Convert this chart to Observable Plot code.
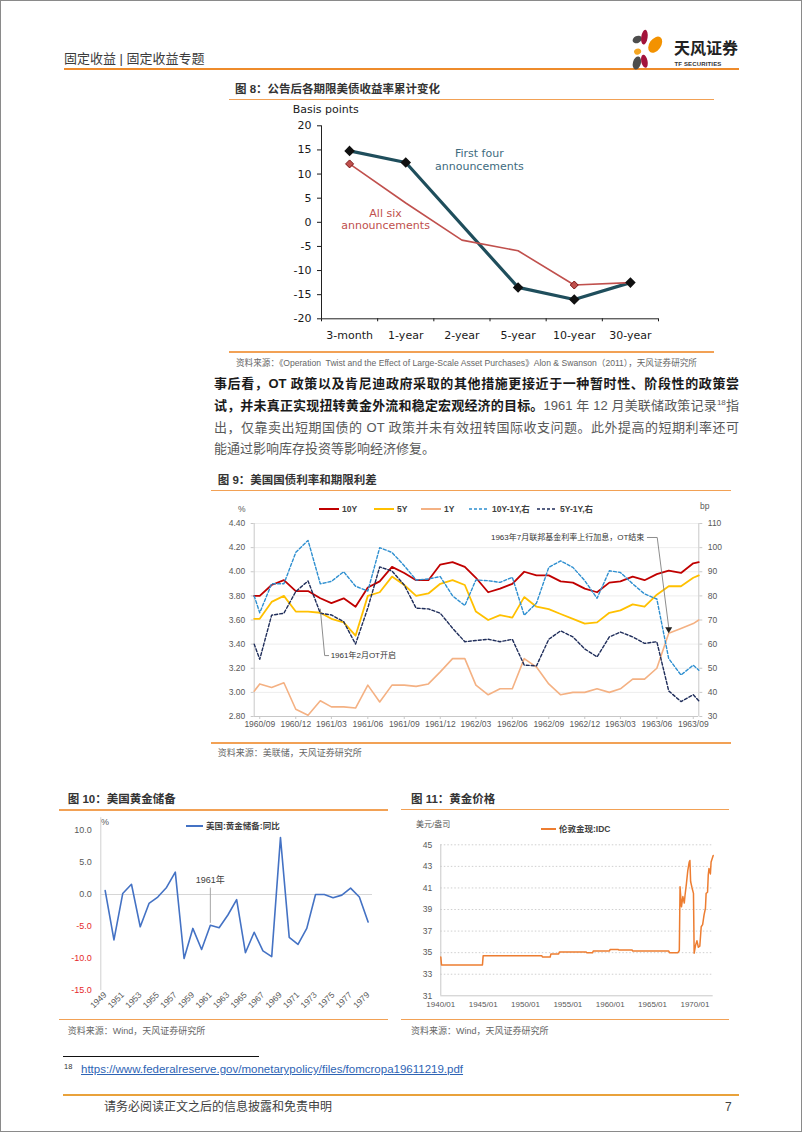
<!DOCTYPE html>
<html><head><meta charset="utf-8">
<script src="https://cdn.jsdelivr.net/npm/d3@7"></script>
<script src="https://cdn.jsdelivr.net/npm/@observablehq/plot@0.6"></script>
<style>
html,body{margin:0;padding:0;background:#fff;}
#page{position:relative;width:802px;height:1132px;box-sizing:border-box;border:1px solid #8a8a8a;overflow:hidden;font-family:"Liberation Sans","Noto Sans CJK SC",sans-serif;color:#333;background:#fff;}
.a{position:absolute;white-space:nowrap;}
.title{font-size:11.5px;font-weight:bold;color:#333;line-height:16px;}
.src{font-size:9px;color:#666;line-height:12px;}
.oline{position:absolute;height:1.5px;background:#F2A155;}
.para{position:absolute;left:213px;width:525px;font-size:13px;line-height:20px;text-align:justify;text-align-last:justify;color:#595959;}
.para b{color:#1a1a1a;}
.para sup{font-size:8px;line-height:0;vertical-align:super;}
.lg{display:flex;align-items:center;gap:3px;font-size:8.5px;font-weight:bold;line-height:12px;color:#404040;}
</style></head>
<body>
<div id="page">
  <!-- header -->
  <div class="a" style="left:63px;top:48px;font-size:13px;line-height:20px;color:#3b3b3b;">固定收益 | 固定收益专题</div>
  <div class="a" style="left:63px;top:67px;width:675px;height:2px;background:#EE8B2B;"></div>
  <svg class="a" style="left:625px;top:24px" width="42" height="48" viewBox="625 24 42 48">
    <ellipse cx="636.2" cy="38.5" rx="4.8" ry="3.5" transform="rotate(-25 636.2 38.5)" fill="#4d4d4d"/>
    <ellipse cx="643.4" cy="36.2" rx="3.2" ry="7.4" transform="rotate(8 643.4 36.2)" fill="#A3123A"/>
    <ellipse cx="654.2" cy="43.7" rx="5.8" ry="9" transform="rotate(35 654.2 43.7)" fill="#F39200"/>
    <ellipse cx="636.6" cy="50.6" rx="3.6" ry="3" transform="rotate(-20 636.6 50.6)" fill="#F5A623"/>
    <ellipse cx="635.9" cy="62" rx="4" ry="6.6" transform="rotate(15 635.9 62)" fill="#4d4d4d"/>
    <ellipse cx="643.4" cy="60.3" rx="3.2" ry="6.6" transform="rotate(-12 643.4 60.3)" fill="#A3123A"/>
  </svg>
  <div class="a" style="left:673px;top:38px;font-size:16px;line-height:20px;font-weight:bold;color:#222;">天风证券</div>
  <div class="a" style="left:673.5px;top:58.5px;font-size:6px;line-height:8px;font-weight:bold;color:#333;letter-spacing:0.15px;">TF SECURITIES</div>

  <!-- figure 8 -->
  <div class="a title" style="left:234px;top:80px;">图 8：公告后各期限美债收益率累计变化</div>
  <div class="oline" style="left:228px;top:97.5px;width:485px;"></div>
  <div class="a" style="left:291.7px;top:101px;font-family:'DejaVu Sans',sans-serif;font-size:11px;line-height:16px;color:#1a1a1a;">Basis points</div>
  <div class="oline" style="left:228px;top:350px;width:485px;"></div>
  <div class="a src" style="left:235px;top:356px;font-size:8.6px;">资料来源：《Operation&nbsp; Twist and the Effect of Large-Scale Asset Purchases》Alon &amp; Swanson（2011），天风证券研究所</div>

  <!-- paragraph -->
  <div class="para" style="top:373.3px;"><b>事后看，OT 政策以及肯尼迪政府采取的其他措施更接近于一种暂时性、阶段性的政策尝</b></div>
  <div class="para" style="top:395px;"><b>试，并未真正实现扭转黄金外流和稳定宏观经济的目标。</b>1961 年 12 月美联储政策记录<sup>18</sup>指</div>
  <div class="para" style="top:416.7px;">出，仅靠卖出短期国债的 OT 政策并未有效扭转国际收支问题。此外提高的短期利率还可</div>
  <div class="para" style="top:438px;text-align-last:left;">能通过影响库存投资等影响经济修复。</div>

  <!-- figure 9 -->
  <div class="a title" style="left:216.7px;top:471px;">图 9：美国国债利率和期限利差</div>
  <div class="oline" style="left:210px;top:488.5px;width:520px;"></div>
  <div class="a" style="left:237px;top:502px;font-size:8.5px;line-height:12px;color:#595959;">%</div>
  <div class="a" style="left:699px;top:499px;font-size:8.5px;line-height:12px;color:#595959;">bp</div>
  <div class="oline" style="left:210px;top:741px;width:520px;"></div>
  <div class="a src" style="left:216.7px;top:746px;">资料来源：美联储，天风证券研究所</div>

  <!-- figure 10 -->
  <div class="a title" style="left:66.7px;top:790.3px;">图 10：美国黄金储备</div>
  <div class="oline" style="left:58px;top:808.3px;width:329px;"></div>
  <div class="a" style="left:100px;top:815px;font-size:9px;line-height:12px;color:#595959;">%</div>
  <div class="oline" style="left:58px;top:1017.5px;width:329px;"></div>
  <div class="a src" style="left:66.7px;top:1024px;">资料来源：Wind，天风证券研究所</div>

  <!-- figure 11 -->
  <div class="a title" style="left:410px;top:790.3px;">图 11：黄金价格</div>
  <div class="oline" style="left:400px;top:807.8px;width:328px;"></div>
  <div class="a" style="left:415px;top:818.3px;font-size:8px;line-height:12px;color:#595959;">美元/盎司</div>
  <div class="oline" style="left:400px;top:1017.5px;width:328px;"></div>
  <div class="a src" style="left:410px;top:1024px;">资料来源：Wind，天风证券研究所</div>

  <!-- footnote & footer -->
  <div class="a" style="left:62px;top:1055px;width:196px;height:1px;background:#111;"></div>
  <div class="a" style="left:63px;top:1061px;font-size:7.5px;line-height:10px;color:#333;">18</div>
  <div class="a" style="left:80px;top:1061px;font-size:11.5px;line-height:14px;color:#2E64B5;text-decoration:underline;">https://www.federalreserve.gov/monetarypolicy/files/fomcropa19611219.pdf</div>
  <div class="a" style="left:62px;top:1092.5px;width:676px;height:2px;background:#E9A23B;"></div>
  <div class="a" style="left:103px;top:1096px;font-size:12px;line-height:20px;color:#404040;">请务必阅读正文之后的信息披露和免责申明</div>
  <div class="a" style="left:724px;top:1096px;font-size:12px;line-height:20px;color:#404040;">7</div>
</div>
<script>
// ================= DATA =================
// Figure 8
const f8Categories = ["3-month","1-year","2-year","5-year","10-year","30-year"];
const f8FirstFour = [14.8, 12.4, null, -13.5, -16.0, -12.5];
const f8AllSix = [12.1, 4.0, -3.7, -5.9, -13.0, -12.5];
const f8AllSixMarkers = ["3-month","10-year"];
const f8YTicks = [20,15,10,5,0,-5,-10,-15,-20];

// Figure 9
const f9Dates = ["1960-08-18","1960-09-01","1960-10-01","1960-11-01","1960-12-01",
 "1961-01-01","1961-02-01","1961-03-01","1961-04-01","1961-05-01","1961-06-01","1961-07-01","1961-08-01","1961-09-01","1961-10-01","1961-11-01","1961-12-01",
 "1962-01-01","1962-02-01","1962-03-01","1962-04-01","1962-05-01","1962-06-01","1962-07-01","1962-08-01","1962-09-01","1962-10-01","1962-11-01","1962-12-01",
 "1963-01-01","1963-02-01","1963-03-01","1963-04-01","1963-05-01","1963-06-01","1963-07-01","1963-08-01","1963-09-01","1963-09-15"];
const f9Y10 = [3.80,3.80,3.89,3.93,3.84,3.84,3.78,3.74,3.78,3.71,3.87,3.92,4.04,3.99,3.93,3.93,4.06,4.08,4.04,3.95,3.83,3.86,3.90,4.00,3.97,3.97,3.92,3.91,3.86,3.83,3.91,3.92,3.96,3.93,3.98,4.01,3.99,4.07,4.08];
const f9Y5 = [3.61,3.61,3.75,3.80,3.67,3.67,3.66,3.61,3.58,3.47,3.80,3.83,3.96,3.89,3.80,3.82,3.90,3.93,3.89,3.67,3.60,3.64,3.62,3.79,3.71,3.69,3.65,3.61,3.57,3.58,3.66,3.68,3.73,3.71,3.81,3.88,3.88,3.95,3.97];
const f9Y1 = [3.01,3.07,3.04,3.08,2.86,2.81,2.93,2.88,2.88,2.87,3.06,2.92,3.06,3.06,3.05,3.07,3.17,3.28,3.28,3.06,2.98,3.03,3.03,3.28,3.21,3.07,2.98,3.00,3.00,3.03,3.00,3.03,3.11,3.11,3.20,3.49,3.53,3.57,3.60];
const f9S10m1 = [80,73,85,85,98,103,85,86,90,84,82,100,98,92.5,86.6,87,88,80,76,86.6,86.3,85.6,87.7,72,77,91.8,94.5,91.8,86.3,79,90.4,89.7,85,80.8,78.7,54,47.2,51.3,49.2];
const f9S5m1 = [60,53.7,72,72.8,81.8,86.2,72.8,72.1,69.3,60,75,92,90.3,84.5,74.9,74.6,72.8,66.6,61,61.5,62,61,62,51.3,51,62,65.5,63,58,54.7,63,65,63,60.3,61,40.6,36.2,39,36.5];
const f9LeftTicks = [2.8,3.0,3.2,3.4,3.6,3.8,4.0,4.2,4.4];
const f9RightTicks = [30,40,50,60,70,80,90,100,110];
const f9XTicks = ["1960/09","1960/12","1961/03","1961/06","1961/09","1961/12","1962/03","1962/06","1962/09","1962/12","1963/03","1963/06","1963/09"];
const f9SeriesNames = ["10Y","5Y","1Y","10Y-1Y,右","5Y-1Y,右"];
const f9Colors = ["#C00000","#FFC000","#F4B183","#2E8FD0","#1F2D5A"];

// Figure 10
const f10Years = d3.range(1949, 1980);
const f10Values = [0.6,-7.1,0.15,1.6,-5.05,-1.4,-0.4,1.1,3.5,-10.0,-5.3,-8.6,-4.8,-5.2,-3.2,-0.8,-9.1,-5.9,-8.8,-9.7,8.9,-6.7,-7.8,-5.3,0.0,0.0,-0.5,-0.1,1.0,-0.4,-4.3];
const f10YTicks = [10,5,0,-5,-10,-15];
const f10XTicks = d3.range(1949, 1980, 2);

// Figure 11
const f11Dates = ["1940-01","1940-02","1944-12","1945-01","1951-12","1952-01","1952-12","1953-01","1953-12","1954-01","1957-03","1957-04","1957-12","1958-01","1959-12","1960-01","1960-12","1961-01","1962-08","1962-09","1966-12","1967-01","1968-01","1968-03","1968-04","1968-06","1968-08","1968-10","1968-11","1969-01","1969-03","1969-05","1969-06","1969-07","1969-09","1969-11","1969-12","1970-02","1970-04","1970-06","1970-08","1970-10","1970-12","1971-02","1971-04","1971-05","1971-07","1971-08","1971-09","1971-11","1971-12","1972-03"];
const f11Prices = [34.6,33.86,33.86,34.72,34.72,34.6,34.6,34.88,34.88,35.06,35.06,34.98,34.98,35.15,35.15,35.3,35.3,35.25,35.25,35.15,35.15,35.0,35.0,35.2,41.1,39.25,40.2,39.6,40.3,41.4,42.6,43.4,43.55,41.6,41.0,40.5,34.95,35.7,36.1,35.5,35.6,37.4,37.6,38.5,39.1,40.5,40.6,42.2,42.8,42.3,43.4,44.0];
const f11YTicks = [31,33,35,37,39,41,43,45];
const f11XTicks = ["1940/01","1945/01","1950/01","1955/01","1960/01","1965/01","1970/01"];

// ================= HELPERS =================
const page = document.getElementById("page");
function place(el, left, top, w) {
  const d = document.createElement("div");
  d.style.cssText = `position:absolute;left:${left}px;top:${top}px;width:${w}px;`;
  d.appendChild(el);
  page.appendChild(d);
}
const SANS = "'Liberation Sans','Noto Sans CJK SC',sans-serif";

// ================= FIGURE 8 =================
const f8Four = f8Categories.map((c,i)=>({c, x:i+0.5, v:f8FirstFour[i]})).filter(d=>d.v!=null);
const f8Six = f8Categories.map((c,i)=>({c, x:i+0.5, v:f8AllSix[i]}));
const fig8 = Plot.plot({
  width:485, height:250, marginLeft:92, marginRight:56, marginTop:24.3, marginBottom:32.7,
  style:{fontFamily:"'DejaVu Sans',sans-serif", fontSize:"11px", color:"#1a1a1a", background:"transparent", overflow:"visible"},
  x:{domain:[0, f8Categories.length]},
  y:{domain:[f8YTicks[f8YTicks.length-1], f8YTicks[0]]},
  marks:[
    Plot.ruleX([0], {stroke:"#222"}),
    Plot.ruleY([f8YTicks[f8YTicks.length-1]], {stroke:"#222"}),
    Plot.axisY(f8YTicks, {label:null, tickSize:4, tickPadding:6, tickFormat:d=>String(d), fontSize:11}),
    Plot.axisX(d3.range(f8Categories.length+1), {label:null, tickSize:3, tickFormat:()=>""}),
    Plot.axisX(f8Categories.map((c,i)=>i+0.5), {label:null, tickSize:0, tickPadding:12, tickFormat:d=>f8Categories[Math.floor(d)], fontSize:11}),
    Plot.line(f8Four, {x:"x", y:"v", stroke:"#1F4E5C", strokeWidth:3.2}),
    Plot.line(f8Six, {x:"x", y:"v", stroke:"#C0504D", strokeWidth:1.6}),
    Plot.dot(f8Six.filter(d=>f8AllSixMarkers.includes(d.c)), {x:"x", y:"v", symbol:"diamond2", r:3.6, fill:"#C0504D", stroke:"#7a1515", strokeWidth:1}),
    Plot.dot(f8Four, {x:"x", y:"v", symbol:"diamond2", r:3.8, fill:"#111", stroke:"#111"}),
    Plot.text([{x:2.81, v:13.0}], {x:"x", y:"v", text:()=>"First four\nannouncements", fill:"#3E6B7E", lineHeight:1.15, fontSize:11}),
    Plot.text([{x:1.14, v:0.7}], {x:"x", y:"v", text:()=>"All six\nannouncements", fill:"#C0504D", lineHeight:1.15, fontSize:11})
  ]
});
place(fig8, 228, 100, 485);

// ================= FIGURE 9 =================
const parseDay = d3.utcParse("%Y-%m-%d");
const parseYM = d3.utcParse("%Y/%m");
const lMin = f9LeftTicks[0], lMax = f9LeftTicks[f9LeftTicks.length-1];
const rMin = f9RightTicks[0], rMax = f9RightTicks[f9RightTicks.length-1];
const bpToPct = bp => lMin + (bp - rMin) * (lMax - lMin) / (rMax - rMin);
const pctToBp = p => rMin + (p - lMin) * (rMax - rMin) / (lMax - lMin);
const f9Rows = f9Dates.map((d,i)=>({date:parseDay(d), y10:f9Y10[i], y5:f9Y5[i], y1:f9Y1[i], s101:bpToPct(f9S10m1[i]), s51:bpToPct(f9S5m1[i])}));
const f9Dom = [f9Rows[0].date, f9Rows[f9Rows.length-1].date];
const lead1 = [["1963-05-08",4.284],["1963-06-02",4.284],["1963-07-01",3.54]].map(([d,v])=>({date:parseDay(d), v}));
const lead2 = [["1961-02-01",3.69],["1961-02-12",3.305],["1961-02-22",3.305]].map(([d,v])=>({date:parseDay(d), v}));
const fig9 = Plot.plot({
  width:520, height:240, marginLeft:42.7, marginRight:32.7, marginTop:25, marginBottom:22,
  style:{fontFamily:SANS, fontSize:"8.5px", color:"#595959", background:"transparent", overflow:"visible"},
  x:{type:"utc", domain:f9Dom},
  y:{domain:[lMin, lMax]},
  marks:[
    Plot.ruleY(f9LeftTicks.slice(1), {stroke:"#ededed"}),
    Plot.ruleX(f9Dom, {stroke:"#c8c8c8"}),
    Plot.ruleY([lMin], {stroke:"#c8c8c8"}),
    Plot.axisY(f9LeftTicks, {anchor:"left", label:null, tickSize:3, tickPadding:6, tickFormat:d=>d.toFixed(2), stroke:"#c8c8c8", fill:"#595959"}),
    Plot.axisY(f9RightTicks.map(bpToPct), {anchor:"right", label:null, tickSize:3, tickPadding:6, tickFormat:d=>String(Math.round(pctToBp(d))), stroke:"#c8c8c8", fill:"#595959"}),
    Plot.axisX(f9XTicks.map(parseYM), {label:null, tickSize:3, tickPadding:1.5, tickFormat:d3.utcFormat("%Y/%m"), stroke:"#c8c8c8", fill:"#595959"}),
    Plot.line(f9Rows, {x:"date", y:"y10", stroke:f9Colors[0], strokeWidth:1.8}),
    Plot.line(f9Rows, {x:"date", y:"y5", stroke:f9Colors[1], strokeWidth:1.8}),
    Plot.line(f9Rows, {x:"date", y:"y1", stroke:f9Colors[2], strokeWidth:1.6}),
    Plot.line(f9Rows, {x:"date", y:"s101", stroke:f9Colors[3], strokeWidth:1.4, strokeDasharray:"3,2"}),
    Plot.line(f9Rows, {x:"date", y:"s51", stroke:f9Colors[4], strokeWidth:1.4, strokeDasharray:"3,2"}),
    Plot.line(lead1, {x:"date", y:"v", stroke:"#808080", strokeWidth:0.9}),
    Plot.dot([lead1[lead1.length-1]], {x:"date", y:"v", symbol:"triangle", rotate:180, r:2.6, fill:"#222", dy:2}),
    Plot.text([lead1[0]], {x:"date", y:"v", text:()=>"1963年7月联邦基金利率上行加息，OT结束", textAnchor:"end", dx:-3, fontSize:8, fill:"#333"}),
    Plot.line(lead2, {x:"date", y:"v", stroke:"#808080", strokeWidth:0.9}),
    Plot.text([lead2[lead2.length-1]], {x:"date", y:"v", text:()=>"1961年2月OT开启", textAnchor:"start", dx:2, fontSize:8, fill:"#333"})
  ]
});
place(fig9, 210, 497, 520);
// legend for figure 9
const f9LegendLeft = [318, 373, 420, 468, 536];
f9SeriesNames.forEach((name,i)=>{
  const dash = i >= 3 ? ' stroke-dasharray="3,2"' : '';
  page.insertAdjacentHTML("beforeend",
    `<div class="a lg" style="left:${f9LegendLeft[i]}px;top:501.7px;"><svg width="20" height="12"><line x1="0" x2="20" y1="6" y2="6" stroke="${f9Colors[i]}" stroke-width="${i>=3?1.5:2}"${dash}/></svg><span>${name}</span></div>`);
});

// ================= FIGURE 10 =================
const f10Rows = f10Years.map((y,i)=>({year:y, v:f10Values[i]}));
const f10Dom = [f10Years[0]-0.5, f10Years[f10Years.length-1]+0.5];
const fig10 = Plot.plot({
  width:330, height:205, marginLeft:41.3, marginRight:17, marginTop:4.2, marginBottom:28,
  style:{fontFamily:SANS, fontSize:"9px", color:"#595959", background:"transparent", overflow:"visible"},
  x:{domain:f10Dom},
  y:{domain:[-15, 12]},
  marks:[
    Plot.ruleX([f10Dom[0]], {stroke:"#d0d0d0"}),
    Plot.ruleY([0], {stroke:"#d6d6d6", strokeWidth:1.2}),
    Plot.axisY(f10YTicks.filter(t=>t>=0), {label:null, tickSize:0, tickPadding:9, tickFormat:d=>d.toFixed(1), fill:"#595959"}),
    Plot.axisY(f10YTicks.filter(t=>t<0), {label:null, tickSize:0, tickPadding:9, tickFormat:d=>d.toFixed(1), fill:"#E52A2A"}),
    Plot.axisX(f10XTicks, {label:null, tickSize:0, tickPadding:3, tickRotate:-45, tickFormat:d=>String(d), fontSize:8.5, fill:"#595959"}),
    Plot.ruleX([1961], {y1:1.0, y2:-4.5, stroke:"#a6a6a6"}),
    Plot.text([1961], {x:d=>d, y:()=>2.3, text:()=>"1961年", fontSize:9, fill:"#404040"}),
    Plot.line(f10Rows, {x:"year", y:"v", stroke:"#4472C4", strokeWidth:1.6})
  ]
});
place(fig10, 58, 812, 330);
page.insertAdjacentHTML("beforeend",
  `<div class="a lg" style="left:185px;top:819px;"><svg width="17" height="12"><line x1="0" x2="17" y1="6" y2="6" stroke="#4472C4" stroke-width="2"/></svg><span>美国:黄金储备:同比</span></div>`);

// ================= FIGURE 11 =================
const parseM = d3.utcParse("%Y-%m");
const f11Rows = f11Dates.map((d,i)=>({date:parseM(d), v:f11Prices[i]}));
const f11Dom = [f11Rows[0].date, f11Rows[f11Rows.length-1].date];
const fig11 = Plot.plot({
  width:330, height:180, marginLeft:39.3, marginRight:18.3, marginTop:8.3, marginBottom:20.7,
  style:{fontFamily:SANS, fontSize:"8.5px", color:"#595959", background:"transparent", overflow:"visible"},
  x:{type:"utc", domain:f11Dom},
  y:{domain:[f11YTicks[0], f11YTicks[f11YTicks.length-1]]},
  marks:[
    Plot.ruleY(f11YTicks.slice(1), {stroke:"#cfcfcf", strokeDasharray:"1.5,2"}),
    Plot.ruleX([f11Dom[0]], {stroke:"#c8c8c8"}),
    Plot.ruleY([f11YTicks[0]], {stroke:"#c8c8c8"}),
    Plot.axisY(f11YTicks, {label:null, tickSize:0, tickPadding:8.6, fill:"#595959"}),
    Plot.axisX(f11XTicks.map(parseYM), {label:null, tickSize:0, tickPadding:6, tickFormat:d3.utcFormat("%Y/%m"), fontSize:8, fill:"#595959"}),
    Plot.line(f11Rows, {x:"date", y:"v", stroke:"#ED7D31", strokeWidth:1.5})
  ]
});
place(fig11, 400, 835, 330);
page.insertAdjacentHTML("beforeend",
  `<div class="a lg" style="left:540px;top:821.7px;"><svg width="15" height="12"><line x1="0" x2="15" y1="6" y2="6" stroke="#ED7D31" stroke-width="2"/></svg><span>伦敦金现:IDC</span></div>`);
</script>
</body></html>
